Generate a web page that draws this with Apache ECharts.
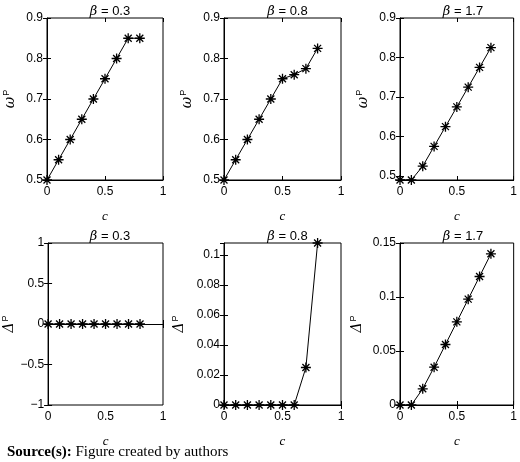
<!DOCTYPE html>
<html><head><meta charset="utf-8">
<script src="https://cdn.jsdelivr.net/npm/echarts@6/dist/echarts.min.js"></script>
<style>body{margin:0}#c{width:520px;height:462px}</style></head>
<body><div id="c"></div>
<script>
const cVals = [0,0.1,0.2,0.3,0.4,0.5,0.6,0.7,0.8];
const betas = ['0.3','0.8','1.7'];
const omega03 = [0.5,0.55,0.6,0.65,0.7,0.75,0.8,0.85,0.85];
const omega08 = [0.5,0.55,0.6,0.65,0.7,0.75,0.76,0.775,0.825];
const omega17 = [0.49,0.49,0.525,0.575,0.625,0.675,0.725,0.775,0.825];
const delta03 = [0,0,0,0,0,0,0,0,0];
const delta08 = [0,0,0,0,0,0,0,0.025,0.108];
const delta17 = [0,0,0.015,0.035,0.056,0.077,0.098,0.119,0.14];
const yRanges = [[0.5,0.9,0.1],[0.5,0.9,0.1],[0.49,0.9,0.1],[-1,1,0.5],[0,0.108,0.02],[0,0.15,0.05]];
const seriesData = [omega03,omega08,omega17,delta03,delta08,delta17];

const lefts=[47,224,400], widths=[116,117,116], tops=[18,243], h=162;
const font='Liberation Sans';
const star='path://M0 5 L10 5 M5 0 L5 10 M1.5 1.5 L8.5 8.5 M8.5 1.5 L1.5 8.5';
const grid=[],xAxis=[],yAxis=[],series=[],title=[];
for(let i=0;i<6;i++){
  const r=Math.floor(i/3),col=i%3;
  grid.push({left:lefts[col],top:tops[r],width:widths[col],height:h,show:true,borderColor:'#000',borderWidth:1});
  const [mn,mx,iv]=yRanges[i];
  const tick={inside:true,length:4,lineStyle:{color:'#000'}};
  xAxis.push({type:'value',gridIndex:i,min:0,max:1,interval:0.5,axisLine:{lineStyle:{color:'#000'}},axisTick:tick,splitLine:{show:false},
    axisLabel:{color:'#000',fontFamily:font,fontSize:12,margin:6},name:'c',nameLocation:'middle',nameGap:30,
    nameTextStyle:{color:'#000',fontFamily:'Liberation Serif',fontStyle:'italic',fontSize:13}});
  xAxis.push({type:'value',gridIndex:i,position:'top',min:0,max:1,interval:0.5,axisLine:{show:false},axisTick:tick,axisLabel:{show:false},splitLine:{show:false}});
  const nm = r===0?'{a|ω}{s|P}':'{a|Δ}{s|P}';
  const yo={type:'value',gridIndex:i,min:mn,max:mx,axisLine:{lineStyle:{color:'#000'}},axisTick:tick,splitLine:{show:false},
    axisLabel:{color:'#000',fontFamily:font,fontSize:12,margin:4,showMinLabel:(mn%iv===0||Math.abs(mn/iv-Math.round(mn/iv))<1e-9),showMaxLabel:Math.abs(mx/iv-Math.round(mx/iv))<1e-9,
      formatter:v=>String(Math.round(v*1000)/1000).replace('-','−')},
    name:nm,nameLocation:'middle',nameGap:col===0&&r===0?28:(r===1&&col===1?36:(r===1&&col===2?34:28)),nameRotate:90,
    nameTextStyle:{color:'#000',rich:{a:{fontSize:14,fontFamily:'DejaVu Serif',fontStyle:'italic'},s:{fontSize:9,fontFamily:font,verticalAlign:'top',padding:[0,0,8,1]}}}};
  if(i===2){yo.min=0.49;yo.interval=undefined;yo.axisLabel.showMinLabel=false;}
  else if(i===4){yo.interval=0.02;yo.axisLabel.showMaxLabel=false;}
  else yo.interval=iv;
  yAxis.push(yo);
  yAxis.push({type:'value',gridIndex:i,position:'right',min:yo.min,max:mx,interval:yo.interval,axisLine:{show:false},axisTick:tick,axisLabel:{show:false},splitLine:{show:false}});
  series.push({type:'line',xAxisIndex:2*i,yAxisIndex:2*i,data:cVals.map((c,k)=>[c,seriesData[i][k]]),
    symbol:star,symbolSize:10,showSymbol:true,lineStyle:{color:'#000',width:1},
    itemStyle:{color:'rgba(0,0,0,0)',borderColor:'#000',borderWidth:1.3},animation:false,z:3});
  title.push({text:'{b|β} = '+betas[col],left:lefts[col]+widths[col]/2,textAlign:'center',top:tops[r]-18,
    textStyle:{fontFamily:font,fontSize:13,fontWeight:'normal',color:'#000',rich:{b:{fontFamily:'DejaVu Serif',fontStyle:'italic',fontSize:13}}}});
}
title.push({text:'{b|Source(s):} Figure created by authors',left:2,top:440,
  textStyle:{fontFamily:'Liberation Serif',fontSize:15,fontWeight:'normal',color:'#000',rich:{b:{fontFamily:'Liberation Serif',fontWeight:'bold',fontSize:15}}}});
const ch=echarts.init(document.getElementById('c'));
ch.setOption({animation:false,backgroundColor:'#fff',grid,xAxis,yAxis,series,title});
</script></body></html>
